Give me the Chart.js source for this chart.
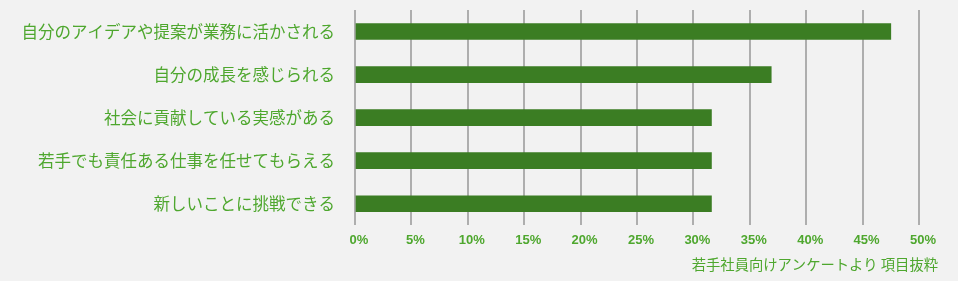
<!DOCTYPE html>
<html>
<head>
<meta charset="utf-8">
<script src="https://cdn.jsdelivr.net/npm/chart.js@4"></script>
<style>
  html, body { margin: 0; padding: 0; background: #f2f2f2; }
  #wrap { width: 958px; height: 281px; }
</style>
</head>
<body>
<div id="wrap"><canvas id="surveyChart" width="958" height="281"></canvas></div>
<script>
var categories = [
	"自分のアイデアや提案が業務に活かされる",
	"自分の成長を感じられる",
	"社会に貢献している実感がある",
	"若手でも責任ある仕事を任せてもらえる",
	"新しいことに挑戦できる"
];
var percents = [47.5, 36.9, 31.6, 31.6, 31.6];
var tickMin = 0, tickMax = 50, tickStep = 5;
var footnote = "若手社員向けアンケートより 項目抜粋";

var green = "#4ea72e";
var jpFont = "'Noto Sans CJK JP', 'Noto Sans', sans-serif";

var conf_bar = {
	type: 'bar',
	data: {
		labels: categories,
		datasets: [{
			data: percents,
			backgroundColor: "#3b7d23",
			barThickness: 16
		}]
	},
	options: {
		indexAxis: 'y',
		responsive: false,
		animation: false,
		layout: { padding: { top: 10, right: 20, bottom: 0, left: 0 } },
		plugins: {
			legend: { display: false },
			tooltip: { enabled: false },
			title: {
				display: true,
				text: footnote,
				position: 'bottom',
				align: 'end',
				color: green,
				font: { family: jpFont, size: 14.3, weight: 'normal' },
				padding: { top: 0, bottom: 8 }
			}
		},
		scales: {
			x: {
				min: tickMin,
				max: tickMax,
				ticks: {
					stepSize: tickStep,
					color: green,
					padding: 7.5,
					labelOffset: 4,
					font: { family: "'Liberation Sans', Arial, sans-serif", size: 13, weight: 'bold' },
					callback: function(v){ return v + "%"; }
				},
				grid: { color: "#aeaeae", lineWidth: 2, drawTicks: false },
				border: { display: false },
				afterFit: function(scale){ scale.paddingRight = 39; }
			},
			y: {
				ticks: {
					color: green,
					padding: 20,
					font: { family: jpFont, size: 16.5, weight: 'normal' }
				},
				grid: { display: false, drawTicks: false },
				border: { display: false },
				afterFit: function(scale){
					scale.width = 355;
					scale.paddingTop = 0;
					scale.paddingBottom = 0;
				}
			}
		}
	}
};

var ctx = document.getElementById("surveyChart").getContext("2d");
var chart = new Chart(ctx, conf_bar);
</script>
</body>
</html>
